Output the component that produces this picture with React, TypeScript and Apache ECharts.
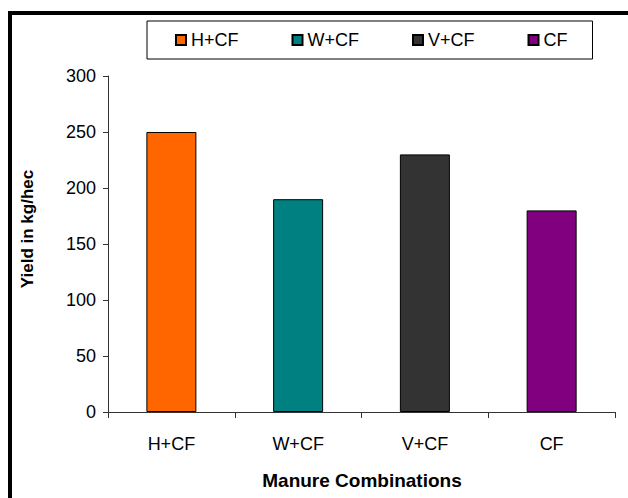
import React, { useEffect, useRef } from "react";
import * as echarts from "echarts";

const categories = ["H+CF", "W+CF", "V+CF", "CF"];
const yieldValues = [250, 190, 230, 180];
const barColors = ["#FF6600", "#008080", "#333333", "#800080"];
const yTicks = [0, 50, 100, 150, 200, 250, 300];

const FONT = "'Liberation Sans', Arial, sans-serif";

export default function App() {
  const ref = useRef<HTMLDivElement>(null);

  useEffect(() => {
    if (!ref.current) return;
    const chart = echarts.init(ref.current, undefined, { renderer: "svg" });

    // one series per treatment so each gets its own legend entry;
    // stacking keeps each bar centred on its own category
    const series = categories.map((name, i) => ({
      name,
      type: "bar",
      stack: "all",
      barWidth: 50,
      data: categories.map((_, j) => (j === i ? yieldValues[i] : null)),
      itemStyle: { color: barColors[i], borderColor: "#000", borderWidth: 1 },
    }));

    chart.setOption({
      animation: false,
      backgroundColor: "#fff",
      textStyle: { fontFamily: FONT },
      graphic: [
        {
          type: "rect",
          shape: { x: 10, y: 13, width: 700, height: 600 },
          style: { fill: "none", stroke: "#000", lineWidth: 4 },
          silent: true,
        },
        {
          type: "text",
          x: 27,
          y: 229,
          rotation: Math.PI / 2,
          style: {
            text: "Yield in kg/hec",
            fontFamily: FONT,
            fontWeight: "bold",
            fontSize: 17,
            fill: "#000",
            align: "center",
            verticalAlign: "middle",
          },
        },
        {
          type: "text",
          x: 362,
          y: 480,
          style: {
            text: "Manure Combinations",
            fontFamily: FONT,
            fontWeight: "bold",
            fontSize: 19,
            fill: "#000",
            align: "center",
            verticalAlign: "middle",
          },
        },
      ],
      legend: {
        left: 147,
        top: 21,
        orient: "horizontal",
        icon: "rect",
        itemWidth: 10,
        itemHeight: 10,
        itemGap: 53,
        padding: [10, 25, 10, 28],
        borderColor: "#000",
        borderWidth: 1,
        textStyle: { fontFamily: FONT, fontSize: 18, color: "#000" },
        data: categories,
      },
      grid: { left: 108, right: 13, top: 76, bottom: 86, containLabel: false },
      xAxis: {
        type: "category",
        data: categories,
        axisLine: { lineStyle: { color: "#333", width: 1 } },
        axisTick: { show: true, length: 6, lineStyle: { color: "#333" } },
        axisLabel: { fontFamily: FONT, fontSize: 18, color: "#000", margin: 23 },
      },
      yAxis: {
        type: "value",
        min: yTicks[0],
        max: yTicks[yTicks.length - 1],
        interval: 50,
        splitLine: { show: false },
        axisLine: { show: true, lineStyle: { color: "#333", width: 1 } },
        axisTick: { show: true, length: 5, lineStyle: { color: "#333" } },
        axisLabel: { fontFamily: FONT, fontSize: 18, color: "#000", margin: 12 },
      },
      series,
    });

    return () => chart.dispose();
  }, []);

  return <div ref={ref} style={{ width: 628, height: 498, position: "absolute", left: 0, top: 0 }} />;
}
